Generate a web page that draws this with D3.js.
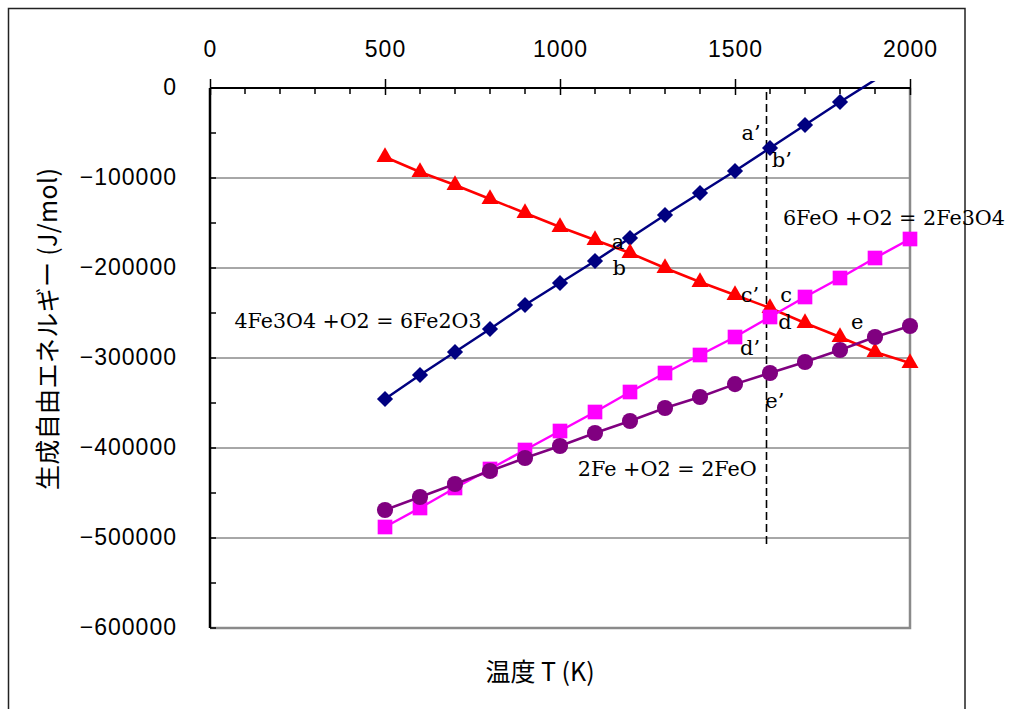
<!DOCTYPE html>
<html><head><meta charset="utf-8">
<script src="https://cdn.jsdelivr.net/npm/d3@7/dist/d3.min.js"></script>
<style>body{margin:0;background:#fff}svg{display:block}</style>
</head><body>
<svg id="c" width="1017" height="709"></svg>
<script>
// ---- data ----
const temps = [500,600,700,800,900,1000,1100,1200,1300,1400,1500,1600,1700,1800,1900,2000];
const tempsBlue = [500,600,700,800,900,1000,1100,1200,1300,1400,1500,1600,1700,1800,1900];
const fe3o4_fe2o3 = [-345556,-318889,-293333,-267778,-241111,-216667,-192222,-166667,-141111,-116667,-92222,-66667,-41111,-15556,9000];
const redSeries = [-76667,-93333,-107778,-123333,-138889,-154444,-168889,-183333,-200000,-215556,-230000,-244444,-261111,-276667,-293333,-305556];
const feo_fe3o4 = [-487778,-466667,-444444,-423333,-402222,-381111,-360000,-337778,-316667,-296667,-276667,-254444,-232222,-211111,-188889,-167778];
const fe_feo = [-468889,-454444,-440000,-425556,-411111,-397778,-383333,-370000,-355556,-343333,-329000,-316667,-304444,-291111,-276667,-264444];
const xTicks = [0,500,1000,1500,2000];
const yTicks = [0,-100000,-200000,-300000,-400000,-500000,-600000];
const xTitle = "温度 T (K)";
const yTitle = "生成自由エネルギー (J/mol)";
const dashT = 1590, dashBottom = -511000;
const reactionLabels = [
  {text:"4Fe3O4 +O2 = 6Fe2O3", t:70, g:-258000, w:247},
  {text:"6FeO +O2 = 2Fe3O4", t:1637, g:-144000, w:222},
  {text:"2Fe +O2 = 2FeO", t:1051, g:-423000, w:179}
];
const pointLabels = [
  {text:"a", t:1166, g:-171000}, {text:"b", t:1169, g:-200000},
  {text:"a’", t:1546, g:-50000}, {text:"b’", t:1634, g:-80000},
  {text:"c’", t:1543, g:-230000}, {text:"c", t:1646, g:-230000},
  {text:"d", t:1643, g:-260000}, {text:"d’", t:1543, g:-288000},
  {text:"e", t:1849, g:-260000}, {text:"e’", t:1614, g:-347000}
];

// ---- scales ----
const svg = d3.select("#c");
const x = d3.scaleLinear().domain([0,2000]).range([210,910]);
const y = d3.scaleLinear().domain([-600000,0]).range([628,88]);

// outer frame
svg.append("rect").attr("x",8.5).attr("y",8.5).attr("width",956.5).attr("height",720)
  .attr("fill","none").attr("stroke","#222").attr("stroke-width",1.5);

// gridlines
svg.append("g").selectAll("line").data(yTicks.filter(v=>v<0 && v>-600000)).join("line")
  .attr("x1",x(0)).attr("x2",x(2000)).attr("y1",d=>y(d)).attr("y2",d=>y(d))
  .attr("stroke","#505050").attr("stroke-width",1);

// plot border right & bottom (gray)
svg.append("path").attr("d",`M${x(2000)},${y(0)}V${y(-600000)}H${x(0)}`)
  .attr("fill","none").attr("stroke","#8a8a8a").attr("stroke-width",2.5);

// top x axis
const xAxis = d3.axisTop(x).tickValues(xTicks).tickSize(9).tickPadding(18).tickFormat(d3.format("d"));
const gx = svg.append("g").attr("transform",`translate(0,${y(0)})`).call(xAxis);
gx.select(".domain").attr("stroke","#000").attr("stroke-width",2).attr("d",`M${x(0)},0H${x(2000)}`);
gx.selectAll(".tick line").attr("y2",-9).attr("y1",7).attr("stroke","#000").attr("stroke-width",1.5);
gx.selectAll("text").attr("font-family","Liberation Sans, Arial, sans-serif").attr("font-size",23)
  .attr("letter-spacing",1).attr("fill","#000").attr("dy","0");
gx.selectAll("text").attr("y",-31);
// minor x ticks
const minorX = d3.range(0,2001,100).filter(v=>v%500!==0);
svg.append("g").selectAll("line").data(minorX).join("line")
  .attr("x1",d=>x(d)).attr("x2",d=>x(d)).attr("y1",y(0)).attr("y2",y(0)+6)
  .attr("stroke","#000").attr("stroke-width",1.5);

// left y axis
const yAxis = d3.axisLeft(y).tickValues(yTicks).tickSize(0).tickPadding(33)
  .tickFormat(d=>d===0?"0":"−"+Math.abs(d));
const gy = svg.append("g").attr("transform",`translate(${x(0)},0)`).call(yAxis);
gy.select(".domain").attr("stroke","#000").attr("stroke-width",2.5).attr("d",`M0,${y(0)}V${y(-600000)}`);
gy.selectAll("text").attr("font-family","Liberation Sans, Arial, sans-serif").attr("font-size",23)
  .attr("letter-spacing",1).attr("fill","#000").attr("dy","0.28em");
const minorY = d3.range(-600000,1,50000);
svg.append("g").selectAll("line").data(minorY).join("line")
  .attr("x1",x(0)).attr("x2",x(0)+6).attr("y1",d=>y(d)).attr("y2",d=>y(d))
  .attr("stroke","#000").attr("stroke-width",1.5);

// axis titles
svg.append("text").attr("x",540).attr("y",681).attr("text-anchor","middle")
  .attr("font-family","Noto Sans CJK JP, sans-serif").attr("font-size",25).text(xTitle);
svg.append("text").attr("transform","translate(57,329) rotate(-90)").attr("text-anchor","middle")
  .attr("font-family","Noto Sans CJK JP, sans-serif").attr("font-size",25)
  .attr("textLength",322).attr("lengthAdjust","spacing").text(yTitle);

// clip
svg.append("clipPath").attr("id","clip").append("rect")
  .attr("x",x(0)-10).attr("y",81).attr("width",x(2000)-x(0)+20).attr("height",y(-600000)-81+10);

// dashed line
svg.append("line").attr("x1",x(dashT)).attr("x2",x(dashT)).attr("y1",y(0)+4).attr("y2",y(dashBottom))
  .attr("stroke","#000").attr("stroke-width",1.6).attr("stroke-dasharray","8,4");

const line = d3.line().x(d=>x(d[0])).y(d=>y(d[1]));
function series(ts, vals, color, shape, size, rot){
  const pts = ts.map((t,i)=>[t,vals[i]]);
  const g = svg.append("g").attr("clip-path","url(#clip)");
  g.append("path").attr("d",line(pts)).attr("fill","none").attr("stroke",color).attr("stroke-width",2.5);
  svg.append("g").selectAll("path").data(pts.filter(p=>p[1]<=0)).join("path")
    .attr("transform",d=>`translate(${x(d[0])},${y(d[1])}) rotate(${rot})`)
    .attr("d",d3.symbol().type(shape).size(size)).attr("fill",color);
}
series(tempsBlue, fe3o4_fe2o3, "#000080", d3.symbolSquare, 130, 45);
series(temps, redSeries, "#ff0000", d3.symbolTriangle, 125, 0);
series(temps, feo_fe3o4, "#ff00ff", d3.symbolSquare, 215, 0);
series(temps, fe_feo, "#800080", d3.symbolCircle, 205, 0);

// reaction labels
svg.append("g").selectAll("text").data(reactionLabels).join("text")
  .attr("x",d=>x(d.t)).attr("y",d=>y(d.g)).attr("dy","0.35em")
  .attr("font-family","DejaVu Serif, serif").attr("font-size",21)
  .attr("textLength",d=>d.w).attr("lengthAdjust","spacingAndGlyphs").text(d=>d.text);
svg.append("g").selectAll("text").data(pointLabels).join("text")
  .attr("x",d=>x(d.t)).attr("y",d=>y(d.g)).attr("dy","0.35em").attr("text-anchor","middle")
  .attr("font-family","DejaVu Serif, serif").attr("font-size",21).text(d=>d.text);
</script>
</body></html>
